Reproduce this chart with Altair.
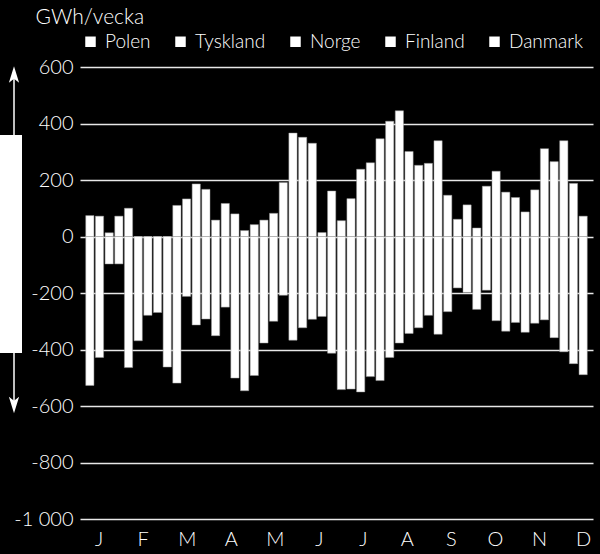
import altair as alt
import pandas as pd

weeks = list(range(1, 53))
positive = [74, 72, 13, 72, 100, 0, 0, 0, 0, 110, 133, 186, 167, 58, 117, 80, 21, 42, 58, 82,
            191, 366, 351, 330, 14, 161, 56, 134, 238, 261, 346, 408, 445, 301, 252, 259, 339,
            146, 61, 112, 30, 178, 231, 157, 138, 87, 165, 311, 265, 339, 188, 72]
negative = [-527, -428, -97, -97, -464, -369, -279, -269, -462, -519, -212, -313, -292, -351,
            -250, -501, -546, -492, -377, -300, -208, -367, -323, -293, -283, -413, -542, -540,
            -550, -496, -510, -428, -377, -343, -323, -279, -346, -266, -182, -198, -258, -190,
            -298, -335, -304, -339, -307, -295, -358, -408, -450, -489]
countries = ["Polen", "Tyskland", "Norge", "Finland", "Danmark"]
months = ["J", "F", "M", "A", "M", "J", "J", "A", "S", "O", "N", "D"]

FONT = "Lato"
FW = 300

rows = []
for w, p, n in zip(weeks, positive, negative):
    rows.append({"pos": w - 0.5, "val": p})
    rows.append({"pos": w - 0.5, "val": n})
bars_df = pd.DataFrame(rows)

month_df = pd.DataFrame({"m": months, "pos": [1.46 + i * 4.553 for i in range(12)]})
leg_df = pd.DataFrame({"land": countries})
deco_df = pd.DataFrame({"top": [359], "bot": [-412], "up": [566], "down": [-589]})

xscale = alt.Scale(domain=[0, 52], nice=False, zero=False)
yscale = alt.Scale(domain=[-1000, 600], nice=False)

bars = alt.Chart(bars_df).mark_bar(size=8.2, color="white", stroke="#9a9a9a",
                                   strokeWidth=0.5).encode(
    x=alt.X("pos:Q", scale=xscale, axis=None),
    y=alt.Y("val:Q", scale=yscale, stack=None,
            axis=alt.Axis(values=[-1000, -800, -600, -400, -200, 0, 200, 400, 600],
                          grid=True, gridColor="#e8e8e8", gridWidth=1.5,
                          ticks=False, domain=False, labelPadding=7,
                          labelColor="white", labelFont=FONT, labelFontSize=20,
                          labelFontWeight=FW,
                          labelExpr="(datum.value < 0 ? '-' : '') + replace(format(abs(datum.value), ','), ',', ' ')",
                          title="GWh/vecka", titleAngle=0, titleX=-45, titleY=-44,
                          titleAlign="left", titleBaseline="alphabetic",
                          titleColor="white", titleFont=FONT, titleFontSize=21,
                          titleFontWeight=FW)),
)

month_text = alt.Chart(month_df).mark_text(color="white", font=FONT, fontSize=20,
                                           fontWeight=FW,
                                           baseline="alphabetic", align="center").encode(
    x=alt.X("pos:Q", scale=xscale, axis=None),
    y=alt.value(479),
    text="m:N",
)

legend_layer = alt.Chart(leg_df).mark_square(opacity=0).encode(
    x=alt.value(0), y=alt.value(0),
    color=alt.Color("land:N",
                    scale=alt.Scale(domain=countries, range=["white"] * 5),
                    sort=None,
                    legend=alt.Legend(orient="none", direction="horizontal",
                                      legendX=1, legendY=-35, title=None,
                                      symbolType="square", symbolSize=110,
                                      symbolOpacity=1, symbolFillColor="white",
                                      symbolStrokeWidth=0,
                                      labelColor="white", labelFont=FONT,
                                      labelFontSize=19, labelFontWeight=FW,
                                      labelOffset=5, columnPadding=20)),
)

box = alt.Chart(deco_df).mark_rect(color="white").encode(
    x=alt.value(-80), x2=alt.value(-58),
    y=alt.Y("top:Q", scale=yscale), y2="bot:Q",
)
arrow_up = alt.Chart(deco_df).mark_rule(color="white", strokeWidth=1.5).encode(
    x=alt.value(-66), y=alt.Y("top:Q", scale=yscale), y2="up:Q")
arrow_down = alt.Chart(deco_df).mark_rule(color="white", strokeWidth=1.5).encode(
    x=alt.value(-66), y=alt.Y("bot:Q", scale=yscale), y2="down:Q")
head_up = alt.Chart(deco_df).mark_point(
    shape="M0,-1 L0.5,0.6 L0,0.2 L-0.5,0.6 Z", filled=True, color="white",
    opacity=1, size=420).encode(
    x=alt.value(-66), y=alt.Y("up:Q", scale=yscale))
head_down = alt.Chart(deco_df).mark_point(
    shape="M0,1 L0.5,-0.6 L0,-0.2 L-0.5,-0.6 Z", filled=True, color="white",
    opacity=1, size=420).encode(
    x=alt.value(-66), y=alt.Y("down:Q", scale=yscale))

chart = alt.layer(bars, month_text, legend_layer, box, arrow_up, arrow_down,
                  head_up, head_down).properties(
    width=513, height=452,
    autosize=alt.AutoSizeParams(type="none"),
    padding={"left": 80, "top": 67, "right": 7, "bottom": 35},
    background="black",
).configure_view(stroke=None)

chart.save("out.html", embed_options={"renderer": "svg", "actions": False})
